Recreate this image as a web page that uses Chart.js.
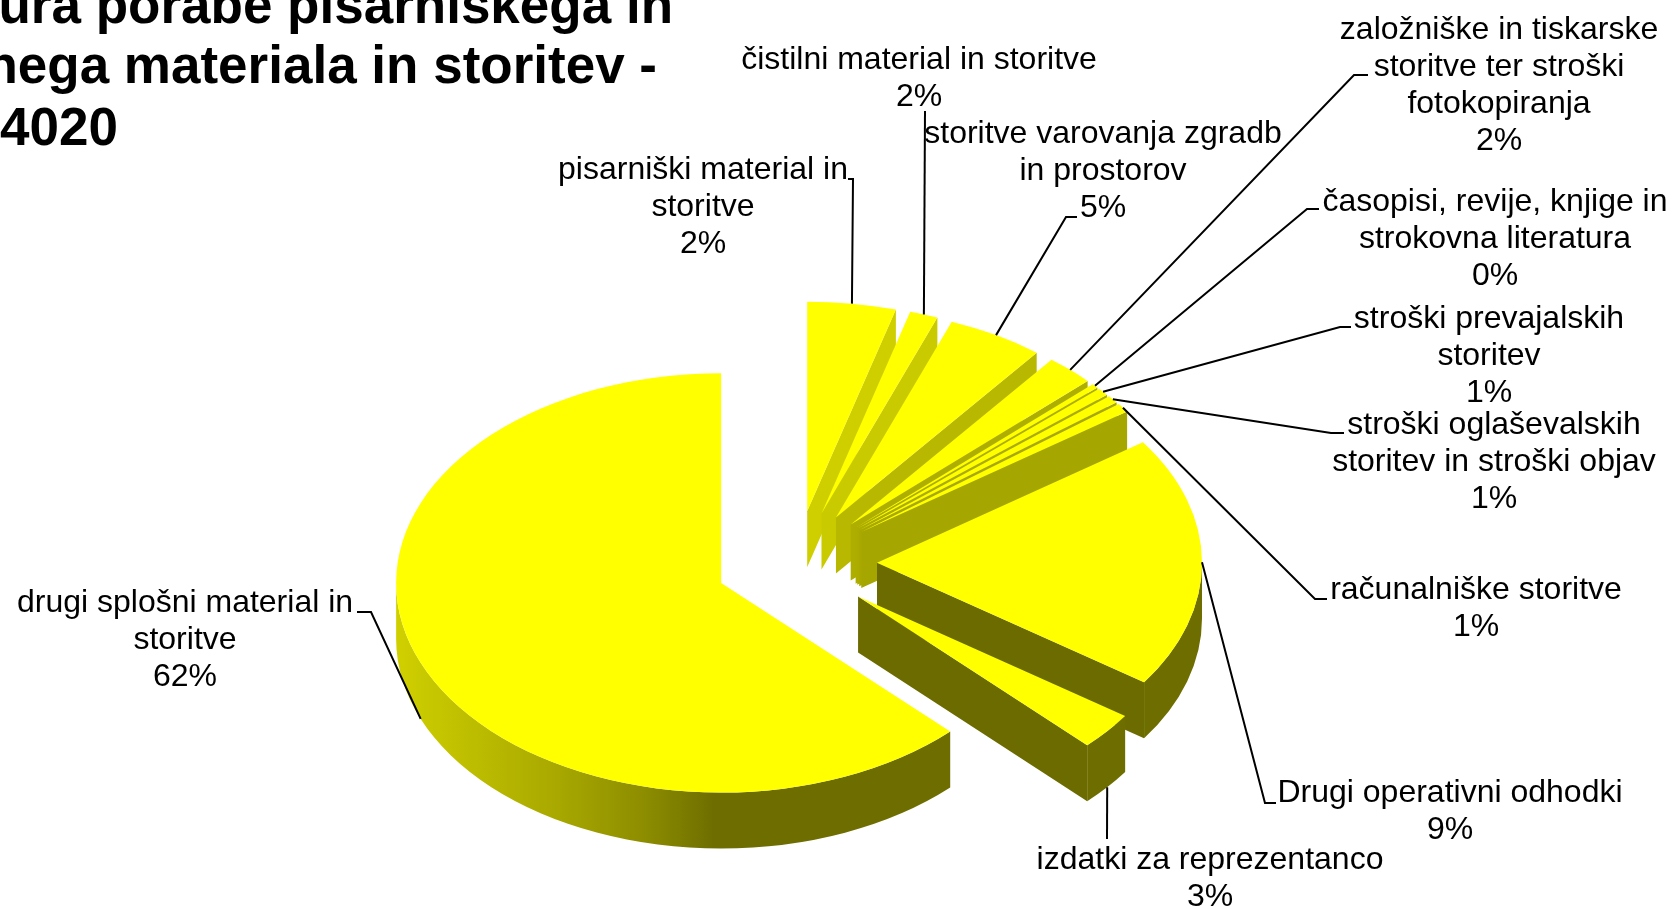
<!DOCTYPE html>
<html>
<head>
<meta charset="utf-8">
<title>Struktura porabe</title>
<script src="https://cdn.jsdelivr.net/npm/chart.js@4/dist/chart.umd.min.js"></script>
<style>
html, body { margin: 0; padding: 0; background: #fff; overflow: hidden; }
canvas { display: block; }
</style>
</head>
<body>
<canvas id="chart" width="1675" height="909"></canvas>
<script>
var titleLines = ['Struktura porabe pisarniškega in', 'splošnega materiala in storitev -', '4020'];

var categories = [
    ['pisarniški material in', 'storitve'],
    ['čistilni material in storitve'],
    ['storitve varovanja zgradb', 'in prostorov'],
    ['založniške in tiskarske', 'storitve ter stroški', 'fotokopiranja'],
    ['časopisi, revije, knjige in', 'strokovna literatura'],
    ['stroški prevajalskih', 'storitev'],
    ['stroški oglaševalskih', 'storitev in stroški objav'],
    ['računalniške storitve'],
    ['Drugi operativni odhodki'],
    ['izdatki za reprezentanco'],
    ['drugi splošni material in', 'storitve']
];

// printed percentages
var percentLabels = ['2%', '2%', '5%', '2%', '0%', '1%', '1%', '1%', '9%', '3%', '62%'];

var sliceValues = [4.4, 1.4, 4.8, 2.4, 0.35, 0.6, 0.6, 0.7, 19.4, 2.9, 62.45];

var SQUASH = 0.645;
var CENTER_Y = 563;
var EXPLODE = 81;
var DEPTH = 56;
var LINE_H = 37;

// label centre x, first line y, leader elbow and end
var labelBoxes = [
    { x: 703, y: 170, leader: [[853, 179], [848, 179]] },
    { x: 919, y: 60, leader: [[925, 111]] },
    { x: 1103, y: 134, leader: [[1066, 217], [1077, 217]] },
    { x: 1499, y: 30, leader: [[1354, 75], [1368, 75]] },
    { x: 1495, y: 202, leader: [[1307, 209], [1319, 209]] },
    { x: 1489, y: 319, leader: [[1340, 327], [1351, 327]] },
    { x: 1494, y: 425, leader: [[1331, 433], [1344, 433]] },
    { x: 1476, y: 590, leader: [[1315, 599], [1327, 599]] },
    { x: 1450, y: 793, leader: [[1265, 803], [1276, 803]] },
    { x: 1210, y: 860, leader: [[1107, 839]] },
    { x: 185, y: 603, leader: [[371, 612], [357, 612]] }
];

// shade of a radial side wall, by how far it has turned from the top
function sideColor(fromTop) {
    var v = Math.max(0.42, 0.88 - fromTop * 180 / Math.PI * 0.0042);
    var c = Math.round(255 * v);
    return 'rgb(' + c + ',' + c + ',0)';
}

var pie3d = {
    id: 'pie3d',
    // pull every slice out by the same distance along its middle angle
    afterDatasetsUpdate: function(chart) {
        chart.getDatasetMeta(0).data.forEach(function(arc) {
            var mid = (arc.startAngle + arc.endAngle) / 2;
            arc.baseY = arc.y;
            arc.x += Math.cos(mid) * EXPLODE;
            arc.y += Math.sin(mid) * EXPLODE;
        });
    },
    beforeDatasetsDraw: function(chart) {
        var ctx = chart.ctx;
        var arcs = chart.getDatasetMeta(0).data;
        var dz = DEPTH / SQUASH;

        ctx.save();
        ctx.translate(0, CENTER_Y);
        ctx.scale(1, SQUASH);
        ctx.translate(0, -arcs[0].baseY);

        var rim = ctx.createLinearGradient(395, 0, 960, 0);
        rim.addColorStop(0, '#d0d000');
        rim.addColorStop(0.287, '#a8a800');
        rim.addColorStop(0.446, '#8c8c00');
        rim.addColorStop(0.563, '#6e6e00');
        rim.addColorStop(1, '#6e6e00');

        // back to front so nearer walls cover farther ones
        var order = arcs.slice().sort(function(a, b) { return a.y - b.y; });
        order.forEach(function(arc) {
            var r = arc.outerRadius;
            var ex = arc.x + Math.cos(arc.endAngle) * r;
            var ey = arc.y + Math.sin(arc.endAngle) * r;

            ctx.beginPath();
            ctx.moveTo(arc.x, arc.y);
            ctx.lineTo(ex, ey);
            ctx.lineTo(ex, ey + dz);
            ctx.lineTo(arc.x, arc.y + dz);
            ctx.closePath();
            ctx.fillStyle = sideColor(arc.endAngle + Math.PI / 2);
            ctx.fill();

            var a0 = Math.max(arc.startAngle, 0);
            var a1 = Math.min(arc.endAngle, Math.PI);
            if (a1 > a0) {
                ctx.beginPath();
                ctx.arc(arc.x, arc.y, r, a0, a1);
                ctx.arc(arc.x, arc.y + dz, r, a1, a0, true);
                ctx.closePath();
                ctx.fillStyle = rim;
                ctx.fill();
            }
        });
    },
    afterDatasetsDraw: function(chart) {
        chart.ctx.restore();
    },
    afterDraw: function(chart) {
        var ctx = chart.ctx;
        var arcs = chart.getDatasetMeta(0).data;

        ctx.save();
        ctx.strokeStyle = '#000';
        ctx.lineWidth = 2;
        arcs.forEach(function(arc, i) {
            var mid = (arc.startAngle + arc.endAngle) / 2;
            var sx = arc.x + Math.cos(mid) * arc.outerRadius;
            var sy = CENTER_Y + (arc.y + Math.sin(mid) * arc.outerRadius - arc.baseY) * SQUASH;
            if (mid + Math.PI / 2 > 1.8) sy += DEPTH;
            ctx.beginPath();
            ctx.moveTo(sx, sy);
            labelBoxes[i].leader.forEach(function(p) { ctx.lineTo(p[0], p[1]); });
            ctx.stroke();
        });

        ctx.fillStyle = '#000';
        ctx.textAlign = 'center';
        ctx.textBaseline = 'middle';
        ctx.font = '32px "Liberation Sans", Arial, sans-serif';
        categories.forEach(function(lines, i) {
            var box = labelBoxes[i];
            lines.concat(percentLabels[i]).forEach(function(text, n) {
                ctx.fillText(text, box.x, box.y + n * LINE_H);
            });
        });

        ctx.textAlign = 'right';
        ctx.textBaseline = 'alphabetic';
        ctx.font = 'bold 53px "Liberation Sans", Arial, sans-serif';
        ctx.fillText(titleLines[0], 673, 23);
        ctx.fillText(titleLines[1], 657, 83);
        ctx.fillText(titleLines[2], 118, 145);
        ctx.restore();
    }
};

new Chart(document.getElementById('chart'), {
    type: 'pie',
    data: {
        labels: categories.map(function(c) { return c.join(' '); }),
        datasets: [{
            data: sliceValues,
            backgroundColor: '#ffff00',
            borderWidth: 0,
            clip: false
        }]
    },
    options: {
        responsive: false,
        animation: false,
        events: [],
        radius: 325,
        layout: { padding: { right: 83 } },
        plugins: {
            legend: { display: false },
            tooltip: { enabled: false },
            title: { display: false }
        }
    },
    plugins: [pie3d]
});
</script>
</body>
</html>
